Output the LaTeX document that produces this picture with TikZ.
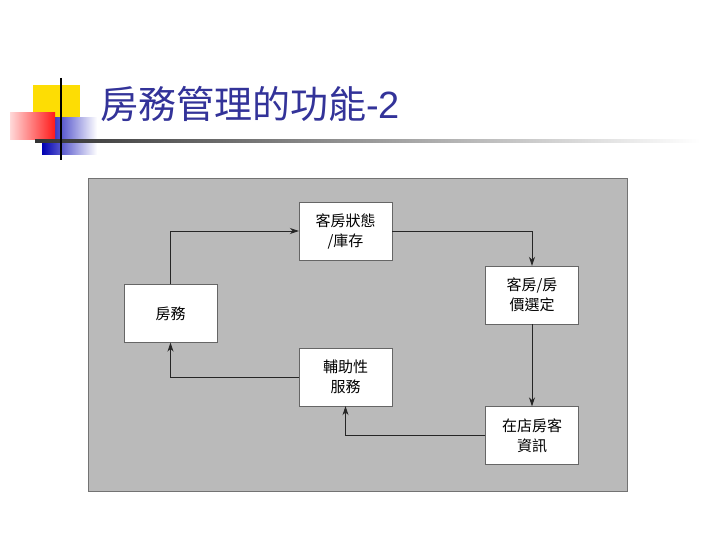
\documentclass[tikz,border=0pt]{standalone}
\usepackage{fontspec}
\setmainfont{Liberation Sans}
\newfontfamily\cjk{Noto Sans CJK TC}
\usetikzlibrary{arrows.meta}
\definecolor{navy}{HTML}{333399}
\begin{document}
\begin{tikzpicture}[x=1pt,y=-1pt,
  box/.style={draw=black!60,fill=white,minimum width=93pt,minimum height=58pt,inner sep=0pt,align=center,font=\cjk\fontsize{15}{20}\selectfont},
  conn/.style={draw=black!85,line width=0.8pt,-{Stealth[length=9pt,width=6pt]}}]
\useasboundingbox (0,0) rectangle (720,540);
% title decoration
\fill[yellow!80!orange] (33,85) rectangle (80,118);
\shade[left color=blue!70!black, right color=white] (42,118) rectangle (97,155);
\shade[left color=red!15, right color=red!90] (10,113) rectangle (55,140);
\shade[left color=black!80, right color=white] (35,140) rectangle (700,142.5);
\draw[black,line width=1.8pt] (61,78) -- (61,160);
\node[anchor=west,text=navy,inner sep=0pt] (title) at (100,104) {\cjk\fontsize{38}{42}\selectfont 房務管理的功能\fontspec{Liberation Sans}-2};
% panel
\fill[black!27] (88,178) rectangle (627,491);
\draw[black!55] (88,178) rectangle (627,491);
\node[box] (a) at (345.5,231) {客房狀態\\/庫存};
\node[box] (b) at (532,295) {客房/房\\價選定};
\node[box] (c) at (170.5,313.5) {房務};
\node[box] (d) at (345.5,377) {輔助性\\服務};
\node[box] (e) at (532,435.5) {在店房客\\資訊};
\draw[conn] (c.north) |- (a.west);
\draw[conn] (a.east) -| (b.north);
\draw[conn] (b.south) -- (e.north);
\draw[conn] (e.west) -| (d.south);
\draw[conn] (d.west) -| (c.south);
\end{tikzpicture}
\end{document}
